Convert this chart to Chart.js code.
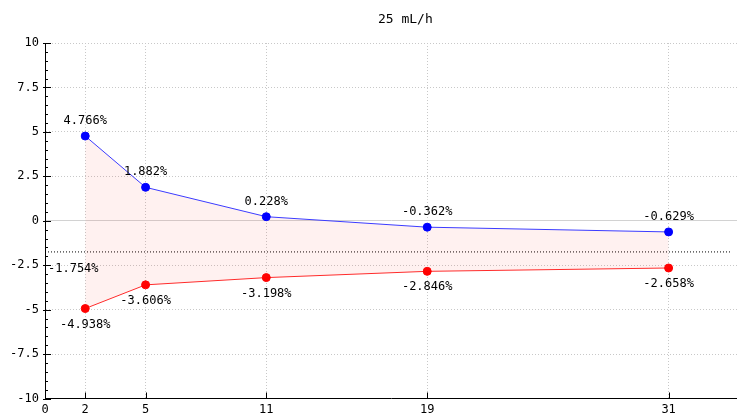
<!DOCTYPE html>
<html>
<head>
<meta charset="utf-8">
<script src="https://cdn.jsdelivr.net/npm/chart.js@4"></script>
<style>
  html, body { margin: 0; padding: 0; background: #fff; }
  canvas { display: block; }
</style>
</head>
<body>
<canvas id="chart" width="737" height="414"></canvas>
<script>
const chartTitle = '25 mL/h';
const xValues = [2, 5, 11, 19, 31];
const upperValues = [4.766, 1.882, 0.228, -0.362, -0.629];
const lowerValues = [-4.938, -3.606, -3.198, -2.846, -2.658];
const meanValue = -1.754;
const meanRange = [0, 34.1];
const xTicks = [0, 2, 5, 11, 19, 31];
const xMax = 34.4;
const yMin = -10, yMax = 10, yStep = 2.5, yMinorStep = 0.5;

const FONT = "'DejaVu Sans Mono', 'Liberation Mono', monospace";

const toPoints = (xs, ys) => xs.map((x, i) => ({ x: x, y: ys[i] }));

// ticks pointing inward, like the original
const axisTicks = {
    id: 'axisTicks',
    afterDraw(chart) {
        const { ctx, chartArea: a, scales: { x, y } } = chart;
        ctx.save();
        ctx.strokeStyle = '#000';
        ctx.lineWidth = 1;
        ctx.beginPath();
        for (let v = yMin; v <= yMax + 1e-9; v += yMinorStep) {
            const py = Math.round(y.getPixelForValue(v)) + 0.5;
            const major = Math.abs(v / yStep - Math.round(v / yStep)) < 1e-6;
            ctx.moveTo(a.left - (major ? 2 : 0), py);
            ctx.lineTo(a.left + (major ? 6 : 3), py);
        }
        xTicks.forEach(v => {
            const px = Math.round(x.getPixelForValue(v)) + 0.5;
            ctx.moveTo(px, a.bottom);
            ctx.lineTo(px, a.bottom - 6);
        });
        ctx.stroke();
        ctx.restore();
    }
};

const labels = {
    id: 'labels',
    afterDatasetsDraw(chart) {
        const ctx = chart.ctx;
        ctx.save();
        ctx.font = '12px ' + FONT;
        ctx.fillStyle = '#000';
        ctx.textAlign = 'center';
        ctx.textBaseline = 'middle';
        [[0, -15], [1, 16]].forEach(([di, dy]) => {
            const ds = chart.data.datasets[di];
            chart.getDatasetMeta(di).data.forEach((pt, i) => {
                ctx.fillText(ds.data[i].y.toFixed(3) + '%', pt.x, pt.y + dy);
            });
        });
        const m = chart.getDatasetMeta(2).data[0];
        ctx.textAlign = 'left';
        ctx.fillText(meanValue.toFixed(3) + '%', m.x + 3, m.y + 17);

        ctx.font = '13px ' + FONT;
        ctx.textAlign = 'center';
        ctx.fillText(chartTitle, chart.width * 0.55, 20);
        ctx.restore();
    }
};

new Chart(document.getElementById('chart'), {
    type: 'line',
    data: {
        datasets: [{
            label: 'upper',
            data: toPoints(xValues, upperValues),
            borderColor: '#3b3bff',
            backgroundColor: 'rgba(255, 60, 40, 0.07)',
            pointBackgroundColor: '#0000ff',
            pointBorderColor: '#0000ff',
            pointRadius: 4,
            borderWidth: 1,
            fill: '+1'
        }, {
            label: 'lower',
            data: toPoints(xValues, lowerValues),
            borderColor: '#ff2b2b',
            pointBackgroundColor: '#ff0000',
            pointBorderColor: '#ff0000',
            pointRadius: 4,
            borderWidth: 1,
            fill: false
        }, {
            label: 'mean',
            data: toPoints(meanRange, [meanValue, meanValue]),
            borderColor: '#000',
            borderWidth: 1,
            borderDash: [1, 2],
            pointRadius: 0,
            fill: false
        }]
    },
    options: {
        responsive: false,
        animation: false,
        layout: { autoPadding: false, padding: { top: 43, right: 0, left: 0, bottom: 0 } },
        plugins: {
            legend: { display: false },
            tooltip: { enabled: false }
        },
        scales: {
            x: {
                type: 'linear',
                min: 0,
                max: xMax,
                afterBuildTicks: s => { s.ticks = xTicks.map(v => ({ value: v })); },
                afterFit: s => {
                    s.height = 15.5;
                    s.paddingLeft = 0;
                    s.paddingRight = 0;
                },
                grid: {
                    color: c => c.tick && c.tick.value === 0 ? 'rgba(0,0,0,0)' : '#c8c8c8',
                    drawTicks: false
                },
                border: { display: true, color: '#000', width: 1, dash: [1, 2] },
                ticks: {
                    autoSkip: false,
                    maxRotation: 0,
                    padding: 4,
                    color: '#000',
                    font: { family: FONT, size: 12 }
                }
            },
            y: {
                min: yMin,
                max: yMax,
                afterFit: s => { s.width = 45; },
                grid: {
                    color: c => {
                        if (!c.tick) return '#c8c8c8';
                        if (c.tick.value === yMin) return 'rgba(0,0,0,0)';
                        return c.tick.value === 0 ? '#d2d2d2' : '#c8c8c8';
                    },
                    drawTicks: false
                },
                border: {
                    display: true, color: '#000', width: 1,
                    dash: c => c.tick && c.tick.value === 0 ? [] : [1, 2]
                },
                ticks: {
                    stepSize: yStep,
                    padding: 6,
                    color: '#000',
                    font: { family: FONT, size: 12 }
                }
            }
        }
    },
    plugins: [axisTicks, labels]
});
</script>
</body>
</html>
